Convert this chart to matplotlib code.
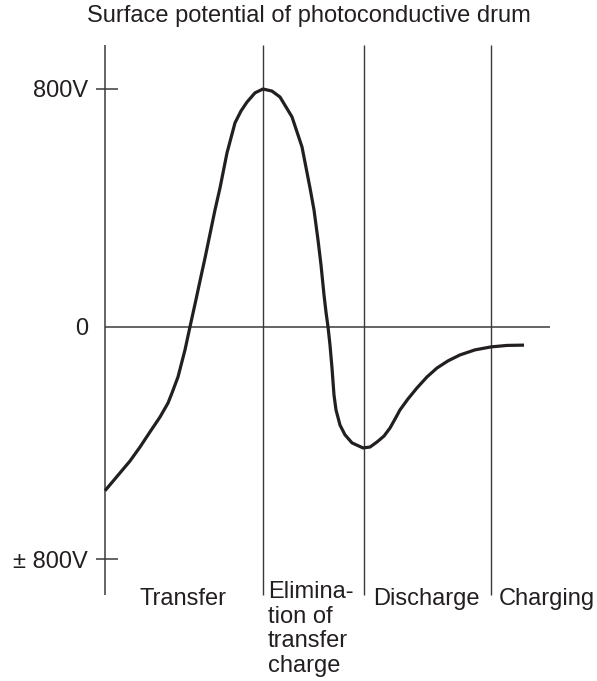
import matplotlib
matplotlib.use("Agg")
import matplotlib.pyplot as plt

# ---- data (x: arbitrary time units along drum rotation, y: surface potential in V)
curve_x = [0, 15, 25, 35, 45, 55, 63, 67, 73, 80, 85, 90, 95, 100, 105, 110, 115, 122, 130,
           136, 142, 150, 158, 167, 175, 187, 197, 205, 209, 213, 216, 219, 221, 223, 225, 227,
           229, 231, 235, 240, 247, 258, 265, 272, 279, 285, 290, 295, 303, 312, 322, 332,
           343, 355, 370, 386, 402, 419]
curve_v = [-552, -492, -452, -405, -354, -304, -257, -223, -169, -78, 0, 76, 154, 231, 312, 393,
           467, 585, 686, 726, 756, 787, 800, 793, 773, 706, 605, 467, 393, 292, 208, 107, 49, 0,
           -62, -139, -230, -280, -331, -364, -391, -408, -405, -388, -368, -341, -311, -280,
           -243, -206, -169, -139, -115, -95, -78, -68, -63, -62]

phase_bounds = [158, 259, 385.5]          # vertical separators between phases
phase_labels = ["Transfer", "Elimina-\ntion of\ntransfer\ncharge", "Discharge", "Charging"]
phase_label_x = [35, 163, 268, 394]
phase_label_top = [-880, -856, -880, -880]

tick_values = [800, 0, -782]
tick_labels = ["800V", "0", "± 800V"]

title = "Surface potential of photoconductive drum"

axis_top, axis_bottom = 949, -903
zero_line_end = 445

# ---- style
plt.rcParams['font.family'] = ['Liberation Sans', 'DejaVu Sans']
ink = "#231f20"
line_col = "#3a3a3a"
fs = 17

fig = plt.figure(figsize=(5.97, 6.81), dpi=100)
ax = fig.add_axes([0, 0, 1, 1])
ax.set_xlim(-105, 492)
ax.set_ylim(-1192.4, 1099.5)
ax.axis("off")

# main vertical axis
ax.vlines(0, axis_bottom, axis_top, color=line_col, lw=1.1)
# phase separators
ax.vlines(phase_bounds, axis_bottom, axis_top, color=line_col, lw=1.0)
# zero line
ax.hlines(0, 0, zero_line_end, color=line_col, lw=1.1)
# tick marks for 800V and ±800V
for v in (tick_values[0], tick_values[2]):
    ax.hlines(v, -9, 13, color=line_col, lw=1.1)

# tick labels
for v, lab in zip(tick_values, tick_labels):
    ax.text(-17, v, lab, ha="right", va="center_baseline", fontsize=fs, color=ink)

# curve
ax.plot(curve_x, curve_v, color=ink, lw=2.3, solid_capstyle="butt", solid_joinstyle="round")

# phase labels
for x, y, lab in zip(phase_label_x, phase_label_top, phase_labels):
    ax.text(x, y, lab, ha="left", va="top", fontsize=fs, color=ink, linespacing=1.16)

# title
ax.text(203.5, 1025, title, ha="center", va="baseline", fontsize=fs, color=ink)

fig.savefig("out.png", dpi=100)
